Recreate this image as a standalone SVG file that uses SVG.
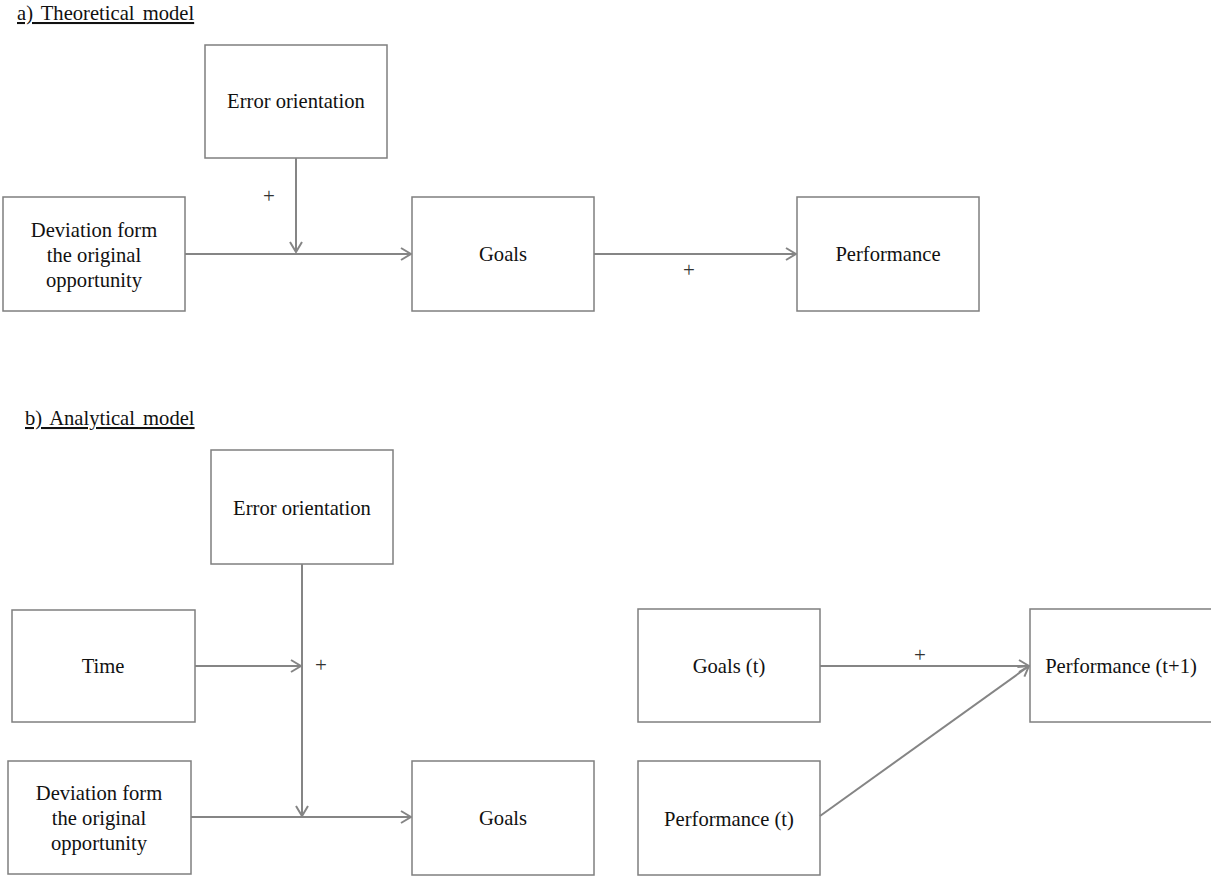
<svg xmlns="http://www.w3.org/2000/svg" width="1211" height="878" viewBox="0 0 1211 878">
<style>
.box{fill:#fff;stroke:#7f7f7f;stroke-width:1.5}
.lbl{font-family:"Liberation Serif","Times New Roman",serif;font-size:20.6px;fill:#111;text-anchor:middle}
.ttl{font-family:"Liberation Serif","Times New Roman",serif;font-size:20.6px;fill:#111;text-decoration:underline;word-spacing:3px}
.plus{font-family:"Liberation Serif","Times New Roman",serif;font-size:21px;fill:#333;text-anchor:middle}
.con{fill:none;stroke:#858585;stroke-width:2}
</style>
<defs>
<marker id="arr" viewBox="0 0 12 14" refX="11" refY="7" markerWidth="12" markerHeight="14" markerUnits="userSpaceOnUse" orient="auto">
<path d="M1,1 L11,7 L1,13" fill="none" stroke="#858585" stroke-width="2"/>
</marker>
</defs>
<rect width="1211" height="878" fill="#fff"/>
<text class="ttl" x="17" y="20">a) Theoretical model</text>
<text class="ttl" x="25" y="425">b) Analytical model</text>

<g id="a-error"><rect class="box" x="205" y="45" width="182" height="113"/><text class="lbl" x="296" y="108">Error orientation</text></g>
<g id="a-deviation"><rect class="box" x="3" y="197" width="182" height="114"/><text class="lbl" x="94" y="237">Deviation form</text><text class="lbl" x="94" y="262">the original</text><text class="lbl" x="94" y="287">opportunity</text></g>
<g id="a-goals"><rect class="box" x="412" y="197" width="182" height="114"/><text class="lbl" x="503" y="261">Goals</text></g>
<g id="a-performance"><rect class="box" x="797" y="197" width="182" height="114"/><text class="lbl" x="888" y="261">Performance</text></g>

<g id="b-error"><rect class="box" x="211" y="450" width="182" height="114"/><text class="lbl" x="302" y="515">Error orientation</text></g>
<g id="b-time"><rect class="box" x="12" y="610" width="183" height="112"/><text class="lbl" x="103" y="673">Time</text></g>
<g id="b-deviation"><rect class="box" x="8" y="761" width="183" height="113"/><text class="lbl" x="99" y="800">Deviation form</text><text class="lbl" x="99" y="825">the original</text><text class="lbl" x="99" y="850">opportunity</text></g>
<g id="b-goals"><rect class="box" x="412" y="761" width="182" height="114"/><text class="lbl" x="503" y="825">Goals</text></g>
<g id="b-goals-t"><rect class="box" x="638" y="609" width="182" height="113"/><text class="lbl" x="729" y="673">Goals (t)</text></g>
<g id="b-perf-t"><rect class="box" x="638" y="761" width="182" height="114"/><text class="lbl" x="729" y="826">Performance (t)</text></g>
<g id="b-perf-t1"><rect class="box" x="1030" y="609" width="182" height="113"/><text class="lbl" x="1121" y="673">Performance (t+1)</text></g>

<g id="connectors">
<line class="con" x1="185" y1="254" x2="411" y2="254" marker-end="url(#arr)"/>
<line class="con" x1="296" y1="158" x2="296" y2="252" marker-end="url(#arr)"/>
<line class="con" x1="594" y1="254" x2="796" y2="254" marker-end="url(#arr)"/>
<line class="con" x1="302" y1="564" x2="302" y2="816" marker-end="url(#arr)"/>
<line class="con" x1="195" y1="666" x2="301" y2="666" marker-end="url(#arr)"/>
<line class="con" x1="191" y1="817" x2="411" y2="817" marker-end="url(#arr)"/>
<line class="con" x1="820" y1="666" x2="1029" y2="666" marker-end="url(#arr)"/>
<line class="con" x1="820" y1="816" x2="1029" y2="666" marker-end="url(#arr)"/>
<text class="plus" x="269" y="203">+</text>
<text class="plus" x="689" y="277">+</text>
<text class="plus" x="321" y="672">+</text>
<text class="plus" x="920" y="662">+</text>
</g>
</svg>
